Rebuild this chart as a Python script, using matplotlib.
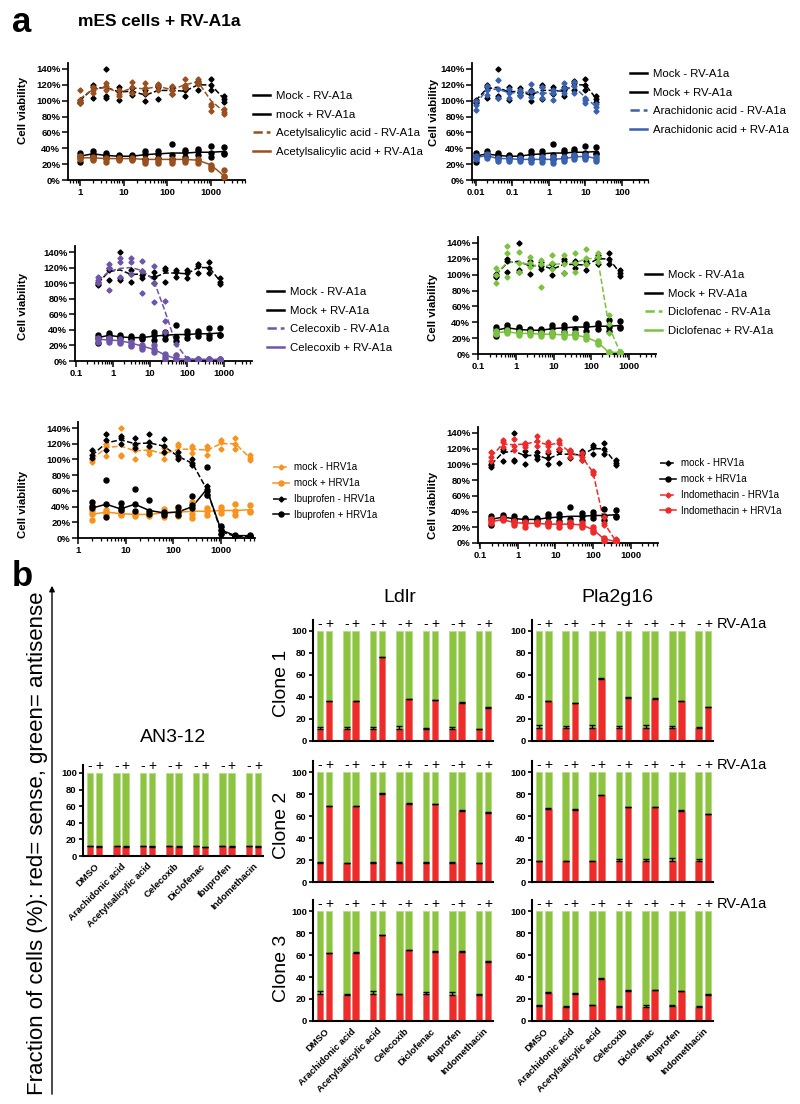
import numpy as np
import matplotlib
matplotlib.use("Agg")
import matplotlib.pyplot as plt
from matplotlib.lines import Line2D
from matplotlib.ticker import FixedLocator, LogLocator, NullFormatter, FuncFormatter

plt.rcParams['font.family'] = ['Liberation Sans', 'DejaVu Sans']

# ---------------- panel a data (cell viability, % of control) ----------------
acetyl_conc = [0.98, 1.95, 3.9, 7.8, 15.6, 31.3, 62.5, 125, 250, 500, 1000, 2000]
arach_conc = [0.0098, 0.0195, 0.039, 0.078, 0.156, 0.313, 0.625, 1.25, 2.5, 5, 10, 20]
celec_conc = [0.39, 0.78, 1.56, 3.13, 6.25, 12.5, 25, 50, 100, 200, 400, 800]
diclo_conc = [0.29, 0.59, 1.17, 2.34, 4.69, 9.38, 18.8, 37.5, 75, 150, 300, 600]
ibu_conc = [1.95, 3.9, 7.8, 15.6, 31.3, 62.5, 125, 250, 500, 1000, 2000, 4000]
indo_conc = [0.195, 0.39, 0.78, 1.56, 3.13, 6.25, 12.5, 25, 50, 100, 200, 400]

mock_minus_pts = [[97, 99, 101], [104, 117, 120], [104, 106, 140], [101, 112, 117],
                  [107, 111, 116], [100, 108, 114], [102, 117, 120], [108, 114, 117],
                  [106, 113, 117], [113, 122, 125], [113, 120, 127], [99, 102, 106]]
mock_minus_fit = [100, 115, 117, 111, 112, 107, 113, 113, 112, 120, 120, 102]
mock_plus_pts = [[23, 30, 34], [30, 33, 36], [29, 31, 34], [28, 30, 32],
                 [28, 30, 32], [27, 33, 37], [28, 33, 37], [26, 31, 46],
                 [29, 35, 38], [32, 36, 39], [29, 34, 43], [33, 34, 42]]
mock_plus_fit = [30, 33, 31, 30, 30, 32, 33, 34, 34, 35, 35, 36]

acetyl_minus_pts = [[97, 101, 114], [110, 113, 117], [113, 118, 122], [106, 109, 114],
                    [110, 117, 124], [110, 116, 122], [114, 118, 121], [108, 113, 118],
                    [116, 120, 128], [121, 124, 128], [87, 93, 96], [83, 86, 89]]
acetyl_minus_fit = [102, 114, 117, 110, 116, 115, 118, 114, 120, 124, 100, 86]
acetyl_plus_pts = [[27, 28, 30], [25, 27, 29], [23, 26, 28], [25, 26, 28],
                   [25, 27, 28], [21, 24, 27], [22, 24, 27], [21, 24, 26],
                   [23, 25, 27], [22, 25, 26], [14, 16, 19], [4, 5, 13]]
acetyl_plus_fit = [28, 28, 27, 27, 27, 26, 26, 26, 26, 25, 19, 5]

arach_minus_pts = [[88, 95, 100], [107, 113, 118], [104, 115, 126], [104, 110, 115],
                   [106, 110, 114], [105, 112, 121], [103, 110, 117], [101, 110, 114],
                   [110, 116, 122], [110, 118, 124], [97, 101, 104], [87, 92, 96]]
arach_minus_fit = [96, 113, 115, 110, 110, 111, 110, 109, 115, 117, 104, 92]
arach_plus_pts = [[26, 28, 30], [28, 31, 33], [24, 26, 28], [24, 26, 28],
                  [24, 26, 28], [23, 26, 28], [23, 26, 29], [22, 25, 29],
                  [24, 27, 29], [27, 29, 31], [27, 30, 32], [24, 27, 29]]
arach_plus_fit = [28, 31, 27, 27, 26, 26, 26, 26, 27, 29, 30, 27]

celec_minus_pts = [[100, 104, 108], [91, 120, 124], [108, 127, 132], [112, 127, 132],
                   [87, 115, 128], [76, 100, 122], [37, 52, 77], [3, 8, 22],
                   [1, 2, 3], [1, 2, 3], [1, 2, 3], [1, 2, 3]]
celec_minus_fit = [103, 115, 119, 120, 116, 104, 65, 22, 3, 2, 2, 2]
celec_plus_pts = [[25, 28, 30], [24, 27, 29], [23, 25, 28], [19, 21, 24],
                  [16, 18, 21], [12, 15, 21], [3, 5, 9], [2, 3, 8],
                  [1, 2, 3], [1, 2, 3], [1, 2, 3], [1, 2, 3]]
celec_plus_fit = [28, 27, 26, 23, 19, 15, 8, 3, 2, 2, 2, 2]

diclo_minus_pts = [[89, 100, 109], [97, 127, 136], [103, 115, 129], [110, 115, 122],
                   [85, 113, 118], [107, 115, 125], [102, 114, 125], [104, 115, 128],
                   [113, 121, 133], [116, 122, 128], [27, 38, 49], [1, 2, 3]]
diclo_minus_fit = [100, 116, 115, 113, 110, 113, 114, 115, 120, 121, 35, 2]
diclo_plus_pts = [[25, 27, 29], [26, 28, 30], [24, 26, 28], [24, 26, 28],
                  [23, 25, 27], [23, 25, 28], [22, 24, 26], [22, 24, 26],
                  [19, 21, 24], [13, 15, 17], [1, 2, 3], [1, 2, 3]]
diclo_plus_fit = [27, 28, 26, 26, 25, 25, 24, 24, 21, 15, 2, 2]

ibu_minus_pts = [[102, 106, 112], [112, 125, 133], [120, 127, 130], [115, 120, 127],
                 [117, 122, 132], [110, 117, 126], [100, 105, 110], [93, 96, 101],
                 [55, 62, 66], [5, 10, 14], [1, 2, 3], [1, 2, 3]]
ibu_minus_fit = [105, 121, 125, 120, 121, 117, 104, 95, 62, 8, 2, 2]
ibu_plus_pts = [[38, 41, 46], [27, 43, 74], [36, 38, 44], [35, 43, 62],
                [30, 35, 49], [29, 32, 33], [29, 33, 40], [38, 42, 53],
                [55, 60, 91], [5, 10, 15], [2, 3, 4], [2, 3, 4]]
ibu_plus_fit = [38, 43, 37, 43, 35, 32, 33, 40, 62, 10, 3, 3]

indo_minus_pts = [[104, 110, 116], [122, 128, 131], [118, 123, 133], [122, 125, 127],
                  [123, 130, 136], [117, 124, 128], [120, 127, 131], [109, 114, 119],
                  [106, 110, 114], [88, 90, 92], [23, 26, 33], [2, 3, 5]]
indo_minus_fit = [110, 126, 125, 126, 129, 125, 127, 115, 110, 90, 25, 3]
indo_plus_pts = [[26, 28, 30], [29, 31, 32], [23, 25, 28], [21, 25, 27],
                 [24, 26, 27], [22, 24, 27], [21, 24, 26], [22, 24, 27],
                 [21, 23, 26], [14, 17, 20], [3, 5, 7], [1, 2, 4]]
indo_plus_fit = [27, 30, 26, 25, 25, 24, 24, 24, 23, 17, 5, 2]

# ---------------- panel b data (fraction of sense cells, %) ----------------
drugs = ['DMSO', 'Arachidonic acid', 'Acetylsalicylic acid', 'Celecoxib',
         'Diclofenac', 'Ibuprofen', 'Indomethacin']

an3_minus = [12, 12, 12, 11.5, 11.5, 12, 11.5]
an3_plus = [11, 11, 11, 11, 10.5, 11, 11]
an3_err_minus = [0.5, 0.5, 0.5, 0.5, 0.5, 0.5, 0.5]
an3_err_plus = [0.5, 0.5, 0.5, 0.5, 0.5, 0.5, 0.5]

ldlr1_minus = [11, 11, 11, 11, 11, 11, 10.5]
ldlr1_plus = [36, 36, 76, 38, 37, 35, 30]
ldlr1_err_minus = [2, 2, 2, 2.5, 1, 1.5, 0.5]
ldlr1_err_plus = [0.5, 0.5, 0.5, 0.5, 0.5, 0.5, 0.5]
pla1_minus = [12, 12, 12, 12, 12, 12, 12]
pla1_plus = [36, 34.5, 56.5, 39.5, 38.5, 36, 30.5]
pla1_err_minus = [2.5, 1.5, 2.5, 1.5, 2.5, 2, 0.5]
pla1_err_plus = [0.5, 0.5, 0.5, 0.5, 0.5, 0.5, 0.5]

ldlr2_minus = [17.5, 17, 17.5, 17.5, 17.5, 17.5, 17]
ldlr2_plus = [69, 69, 80, 71, 70.5, 65, 63]
ldlr2_err_minus = [1, 0.5, 1, 1, 1, 0.5, 0.5]
ldlr2_err_plus = [0.5, 0.5, 0.5, 0.5, 0.5, 0.5, 0.5]
pla2_minus = [19, 19, 19, 19, 19, 19.5, 19]
pla2_plus = [66.5, 65.5, 79, 68, 68, 65, 61.5]
pla2_err_minus = [0.5, 0.5, 0.5, 2, 1.5, 2.5, 2]
pla2_err_plus = [0.5, 0.5, 0.5, 0.5, 0.5, 0.5, 0.5]

ldlr3_minus = [24.5, 24, 24.5, 24.5, 24.5, 24, 24]
ldlr3_plus = [61.5, 62, 78, 64.5, 63, 63, 54]
ldlr3_err_minus = [2.5, 1, 2.5, 0.5, 2, 2, 1]
ldlr3_err_plus = [0.5, 0.5, 0.5, 0.5, 0.5, 0.5, 0.5]
pla3_minus = [14, 13, 14.5, 13, 13, 13.5, 13]
pla3_plus = [25.5, 25, 38.5, 27.5, 28, 27, 24]
pla3_err_minus = [0.5, 1, 0.5, 1, 1.5, 1.5, 0.3]
pla3_err_plus = [0.5, 0.5, 0.5, 0.5, 0.5, 0.5, 0.5]

BROWN = '#99501f'
BLUE = '#3a60b0'
PURPLE = '#6f55a8'
LGREEN = '#7cc242'
ORANGE = '#f7931e'
RED = '#ee2a2a'
BAR_GREEN = '#8cc43f'
BAR_RED = '#ee2b2b'

W, H = 800, 1104
fig = plt.figure(figsize=(8, 11.04), dpi=100)


def add_ax(l, t, r, b):
    return fig.add_axes([l / W, 1 - b / H, (r - l) / W, (b - t) / H])


def viability_panel(left, right, y0, y140, xlim, ylab_pos, conc, series, leg_xy, leg_fs, markers):
    top = y0 - (y0 - y140) / 140 * 148
    ax = add_ax(left, top, right, y0)
    x_rep = np.repeat(conc, 3)
    for pts, fit, color, ls, mk, ms in series:
        ax.plot(conc, fit, color=color, ls=ls, lw=1.1, zorder=2)
        ax.plot(x_rep, np.array(pts).ravel(), ls='none', marker=mk, ms=ms,
                color=color, mec=color, zorder=3)
    ax.set_xscale('log')
    ax.set_xlim(xlim)
    ax.set_ylim(0, 148)
    decs = [10.0 ** k for k in range(-3, 5) if xlim[0] * 0.999 <= 10.0 ** k <= xlim[1]]
    ax.xaxis.set_major_locator(FixedLocator(decs))
    ax.xaxis.set_major_formatter(FuncFormatter(lambda v, p: f'{v:g}'))
    ax.xaxis.set_minor_locator(LogLocator(base=10, subs=np.arange(2, 10)))
    ax.xaxis.set_minor_formatter(NullFormatter())
    ax.set_yticks(range(0, 141, 20))
    ax.set_yticklabels([f'{v}%' for v in range(0, 141, 20)])
    for s in ['top', 'right']:
        ax.spines[s].set_visible(False)
    for s in ['left', 'bottom']:
        ax.spines[s].set_linewidth(1.3)
    ax.tick_params(axis='both', which='major', length=4, width=1.1, labelsize=6.8, pad=1.5)
    ax.tick_params(axis='x', which='minor', length=2.5, width=0.9)
    for lab in ax.get_xticklabels() + ax.get_yticklabels():
        lab.set_fontweight('bold')
    ax.set_ylabel('Cell viability', fontsize=8.2, fontweight='bold')
    ax.yaxis.set_label_coords((ylab_pos[0] - left) / (right - left),
                              (y0 - ylab_pos[1]) / (y0 - top))

    handles, labels = [], []
    for (pts, fit, color, ls, mk, ms), lab in zip(series, leg_xy[2]):
        if markers:
            handles.append(Line2D([], [], color=color, ls=ls, lw=1.1, marker=mk, ms=ms))
        else:
            handles.append(Line2D([], [], color=color, ls=lab[1], lw=1.8))
        labels.append(lab[0])
    fig.legend(handles, labels, loc='center left',
               bbox_to_anchor=(leg_xy[0] / W, 1 - leg_xy[1] / H), frameon=False,
               fontsize=leg_fs, handlelength=1.5 if not markers else 1.6,
               handletextpad=0.55, labelspacing=0.77 if not markers else 0.6,
               borderpad=0, borderaxespad=0)
    return ax


DM, DS, CR = 'D', 2.6, 'o'
CS = 3.6

viability_panel(68, 245, 180, 69, (0.53, 6000), (28, 110), acetyl_conc,
                [(mock_minus_pts, mock_minus_fit, 'black', '--', DM, DS),
                 (mock_plus_pts, mock_plus_fit, 'black', '-', CR, CS),
                 (acetyl_minus_pts, acetyl_minus_fit, BROWN, '--', DM, DS),
                 (acetyl_plus_pts, acetyl_plus_fit, BROWN, '-', CR, CS)],
                (253, 124, [('Mock - RV-A1a', '-'), ('mock + RV-A1a', '-'),
                            ('Acetylsalicylic acid - RV-A1a', '--'),
                            ('Acetylsalicylic acid + RV-A1a', '-')]), 8.2, False)

viability_panel(472, 648, 180, 69, (0.0078, 515), (439, 112), arach_conc,
                [(mock_minus_pts, mock_minus_fit, 'black', '--', DM, DS),
                 (mock_plus_pts, mock_plus_fit, 'black', '-', CR, CS),
                 (arach_minus_pts, arach_minus_fit, BLUE, '--', DM, DS),
                 (arach_plus_pts, arach_plus_fit, BLUE, '-', CR, CS)],
                (630, 102, [('Mock - RV-A1a', '-'), ('Mock + RV-A1a', '-'),
                            ('Arachidonic acid - RV-A1a', '--'),
                            ('Arachidonic acid + RV-A1a', '-')]), 8.2, False)

viability_panel(75, 252, 361, 252, (0.094, 5700), (28, 306), celec_conc,
                [(mock_minus_pts, mock_minus_fit, 'black', '--', DM, DS),
                 (mock_plus_pts, mock_plus_fit, 'black', '-', CR, CS),
                 (celec_minus_pts, celec_minus_fit, PURPLE, '--', DM, DS),
                 (celec_plus_pts, celec_plus_fit, PURPLE, '-', CR, CS)],
                (267, 320, [('Mock - RV-A1a', '-'), ('Mock + RV-A1a', '-'),
                            ('Celecoxib - RV-A1a', '--'),
                            ('Celecoxib + RV-A1a', '-')]), 8.2, False)

viability_panel(478, 656, 354, 243, (0.097, 5400), (438, 307), diclo_conc,
                [(mock_minus_pts, mock_minus_fit, 'black', '--', DM, DS),
                 (mock_plus_pts, mock_plus_fit, 'black', '-', CR, CS),
                 (diclo_minus_pts, diclo_minus_fit, LGREEN, '--', DM, DS),
                 (diclo_plus_pts, diclo_plus_fit, LGREEN, '-', CR, CS)],
                (645, 303, [('Mock - RV-A1a', '-'), ('Mock + RV-A1a', '-'),
                            ('Diclofenac - RV-A1a', '--'),
                            ('Diclofenac + RV-A1a', '-')]), 8.2, False)

viability_panel(78, 255, 538, 428, (1.0, 5130), (28, 504), ibu_conc,
                [(mock_minus_pts, mock_minus_fit, ORANGE, '--', DM, DS),
                 (mock_plus_pts, mock_plus_fit, ORANGE, '-', CR, CS),
                 (ibu_minus_pts, ibu_minus_fit, 'black', '--', DM, DS),
                 (ibu_plus_pts, ibu_plus_fit, 'black', '-', CR, CS)],
                (273, 491, [('mock - HRV1a', '--'), ('mock + HRV1a', '-'),
                            ('Ibuprofen - HRV1a', '--'),
                            ('Ibuprofen + HRV1a', '-')]), 7, True)

viability_panel(478, 658, 543, 433, (0.086, 5400), (438, 505), indo_conc,
                [(mock_minus_pts, mock_minus_fit, 'black', '--', DM, DS),
                 (mock_plus_pts, mock_plus_fit, 'black', '-', CR, CS),
                 (indo_minus_pts, indo_minus_fit, RED, '--', DM, DS),
                 (indo_plus_pts, indo_plus_fit, RED, '-', CR, CS)],
                (660, 487, [('mock - HRV1a', '--'), ('mock + HRV1a', '-'),
                            ('Indomethacin - HRV1a', '--'),
                            ('Indomethacin + HRV1a', '-')]), 7, True)

fig.text(12 / W, 1 - 22 / H, 'a', fontsize=25, fontweight='bold', va='center', ha='left')
fig.text(78 / W, 1 - 22 / H, 'mES cells + RV-A1a', fontsize=12.5, fontweight='bold',
         va='center', ha='left')

# ---------------- panel b ----------------
XM = [3 * i for i in range(7)]
XP = [3 * i + 1.03 for i in range(7)]


def bar_panel(left, right, y0, px_per_unit, minus, plus, err_m, err_p,
              xlabels=False, signs_y=106.5, rv=False):
    top = y0 - px_per_unit * 110
    ax = add_ax(left, top, right, y0)
    bw = 0.75
    ax.bar(XM, [100] * 7, width=bw, color=BAR_GREEN, edgecolor='#b9dc8c', lw=0.6, zorder=1)
    ax.bar(XP, [100] * 7, width=bw, color=BAR_GREEN, edgecolor='#b9dc8c', lw=0.6, zorder=1)
    ax.bar(XM, minus, width=bw, color=BAR_RED, edgecolor='#f57a7a', lw=0.6, zorder=2)
    ax.bar(XP, plus, width=bw, color=BAR_RED, edgecolor='#f57a7a', lw=0.6, zorder=2)
    ax.errorbar(XM, minus, yerr=[[0] * 7, err_m], fmt='none', ecolor='black',
                elinewidth=1.0, capsize=2.2, capthick=1.0, zorder=3)
    ax.errorbar(XP, plus, yerr=[[0] * 7, err_p], fmt='none', ecolor='black',
                elinewidth=1.0, capsize=2.2, capthick=1.0, zorder=3)
    ax.set_xlim(-0.8, 19.6)
    ax.set_ylim(0, 110)
    ax.set_yticks(range(0, 101, 20))
    for s in ['top', 'right']:
        ax.spines[s].set_visible(False)
    for s in ['left', 'bottom']:
        ax.spines[s].set_linewidth(1.5)
    ax.tick_params(axis='y', length=3, width=1.2, labelsize=6.8, pad=1.5)
    for lab in ax.get_yticklabels():
        lab.set_fontweight('bold')
    ax.set_xticks([3 * i + 0.5 for i in range(7)])
    if xlabels:
        ax.set_xticklabels(drugs, rotation=45, ha='right', rotation_mode='anchor',
                           fontsize=6.8, fontweight='bold')
        ax.tick_params(axis='x', length=0, pad=4)
    else:
        ax.set_xticklabels([])
        ax.tick_params(axis='x', length=0)
    for xm, xp in zip(XM, XP):
        ax.text(xm, signs_y, '-', ha='center', va='center', fontsize=10, clip_on=False)
        ax.text(xp, signs_y, '+', ha='center', va='center', fontsize=10, clip_on=False)
    if rv:
        ax.text(20.0, signs_y, 'RV-A1a', ha='left', va='center', fontsize=10.5, clip_on=False)
    return ax


bar_panel(83, 263, 856, 0.83, an3_minus, an3_plus, an3_err_minus, an3_err_plus,
          xlabels=True, signs_y=109)
bar_panel(313, 493, 741, 1.1, ldlr1_minus, ldlr1_plus, ldlr1_err_minus, ldlr1_err_plus)
bar_panel(532, 713, 741, 1.1, pla1_minus, pla1_plus, pla1_err_minus, pla1_err_plus, rv=True)
bar_panel(313, 493, 882, 1.1, ldlr2_minus, ldlr2_plus, ldlr2_err_minus, ldlr2_err_plus)
bar_panel(532, 713, 882, 1.1, pla2_minus, pla2_plus, pla2_err_minus, pla2_err_plus, rv=True)
bar_panel(313, 493, 1021, 1.1, ldlr3_minus, ldlr3_plus, ldlr3_err_minus, ldlr3_err_plus,
          xlabels=True)
bar_panel(532, 713, 1021, 1.1, pla3_minus, pla3_plus, pla3_err_minus, pla3_err_plus,
          xlabels=True, rv=True)

fig.text(173 / W, 1 - 737 / H, 'AN3-12', fontsize=14, ha='center', va='center')
fig.text(400 / W, 1 - 598 / H, 'Ldlr', fontsize=14, ha='center', va='center')
fig.text(617 / W, 1 - 598 / H, 'Pla2g16', fontsize=14, ha='center', va='center')
for yc, name in [(683, 'Clone 1'), (825, 'Clone 2'), (968, 'Clone 3')]:
    fig.text(282 / W, 1 - yc / H, name, fontsize=14, rotation=90, ha='center', va='center')

fig.text(12 / W, 1 - 577 / H, 'b', fontsize=25, fontweight='bold', va='center', ha='left')
fig.text(38 / W, 1 - 843 / H, 'Fraction of cells (%): red= sense, green= antisense',
         fontsize=16, rotation=90, ha='center', va='center')
fig.add_artist(matplotlib.patches.FancyArrowPatch(
    (52 / W, 1 - 1097 / H), (52 / W, 1 - 583 / H), transform=fig.transFigure,
    arrowstyle='-|>', mutation_scale=8, lw=1.0, color='black'))

fig.savefig('out.png', dpi=100)
